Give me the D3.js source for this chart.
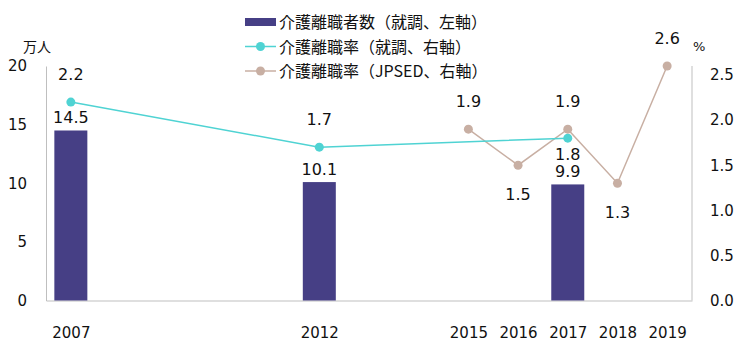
<!DOCTYPE html>
<html lang="ja">
<head>
  <meta charset="UTF-8">
  <title>介護離職者数と介護離職率</title>
  <script src="https://d3js.org/d3.v7.min.js"></script>
  <style>
    body { margin: 0; background: #fff; }
  </style>
</head>
<body>
<svg></svg>
<script>
  // data
  const years = [2007, 2012, 2015, 2016, 2017, 2018, 2019]
  const barYears = [2007, 2012, 2017]
  const barValues = [14.5, 10.1, 9.9]
  const shuchoYears = [2007, 2012, 2017]
  const shuchoRates = [2.2, 1.7, 1.8]
  const shuchoLabelPos = ['up', 'up', 'down']
  const jpsedYears = [2015, 2016, 2017, 2018, 2019]
  const jpsedRates = [1.9, 1.5, 1.9, 1.3, 2.6]
  const jpsedLabelPos = ['up', 'down', 'up', 'down', 'up']
  const leftTicks = [0, 5, 10, 15, 20]
  const rightTicks = [0, 0.5, 1.0, 1.5, 2.0, 2.5]
  const legendLabels = ['介護離職者数（就調、左軸）', '介護離職率（就調、右軸）', '介護離職率（JPSED、右軸）']

  const width = 750, height = 352
  const margin = {top: 66, right: 58, bottom: 51.5, left: 46}
  const barColor = '#463f85', tealColor = '#4fd3d3', beigeColor = '#c8afa3', axisColor = '#bfbfbf'
  const numFont = '"DejaVu Sans", Verdana, sans-serif'
  const jpFont = '"Noto Sans CJK JP", sans-serif'

  const x = d3.scaleLinear()
      .domain([2006.5, 2019.5])
      .range([margin.left, width - margin.right])
  const yL = d3.scaleLinear()
      .domain([0, 20])
      .range([height - margin.bottom, margin.top])
  const yR = d3.scaleLinear()
      .domain([0, 2.6])
      .range([height - margin.bottom, margin.top])

  const svg = d3.select('svg')
      .attr('width', width)
      .attr('height', height)
      .attr('viewBox', [0, 0, width, height])

  // 軸
  const gl = svg.append('g')
      .attr('transform', `translate(${margin.left},0)`)
      .call(d3.axisLeft(yL).tickValues(leftTicks).tickSize(0).tickSizeOuter(0).tickPadding(19))
  const gr = svg.append('g')
      .attr('transform', `translate(${width - margin.right},0)`)
      .call(d3.axisRight(yR).tickValues(rightTicks).tickFormat(d3.format('.1f')).tickSize(0).tickSizeOuter(0).tickPadding(18))
  gr.select('.domain').attr('d', `M0,${yR(0)}V${yR.range()[1]}`)
  const gb = svg.append('g')
      .attr('transform', `translate(0,${height - margin.bottom})`)
      .call(d3.axisBottom(x).tickValues(years).tickFormat(d3.format('d')).tickSize(0).tickSizeOuter(0).tickPadding(27))
  ;[gl, gr, gb].forEach(g => {
    g.select('.domain').attr('stroke', axisColor).attr('stroke-width', 1)
    g.selectAll('text').attr('font-family', numFont).attr('font-size', 15).attr('fill', '#111')
  })

  // 単位
  svg.append('text')
      .attr('x', 23).attr('y', 46)
      .attr('dominant-baseline', 'central')
      .attr('font-family', jpFont).attr('font-size', 14).attr('fill', '#111')
      .text('万人')
  svg.append('text')
      .attr('x', 693).attr('y', 46)
      .attr('dominant-baseline', 'central')
      .attr('font-family', numFont).attr('font-size', 13).attr('fill', '#111')
      .text('%')

  // 棒
  const barW = 33
  const bars = barYears.map((yr, i) => ({year: yr, value: barValues[i]}))
  svg.append('g').selectAll('rect')
      .data(bars)
      .join('rect')
      .attr('x', d => x(d.year) - barW / 2)
      .attr('y', d => yL(d.value))
      .attr('width', barW)
      .attr('height', d => yL(0) - yL(d.value))
      .attr('fill', barColor)
  svg.append('g').selectAll('text')
      .data(bars)
      .join('text')
      .attr('x', d => x(d.year))
      .attr('y', d => yL(d.value) - 7)
      .attr('text-anchor', 'middle')
      .attr('font-family', numFont).attr('font-size', 16).attr('fill', '#111')
      .text(d => d.value.toFixed(1))

  // 折れ線
  function drawLine(yrs, vals, pos, color) {
    const pts = yrs.map((yr, i) => ({year: yr, value: vals[i], pos: pos[i]}))
    const line = d3.line().x(d => x(d.year)).y(d => yR(d.value))
    svg.append('path')
        .datum(pts)
        .attr('d', line)
        .attr('fill', 'none')
        .attr('stroke', color)
        .attr('stroke-width', 1.5)
    svg.append('g').selectAll('circle')
        .data(pts)
        .join('circle')
        .attr('cx', d => x(d.year))
        .attr('cy', d => yR(d.value))
        .attr('r', 4.5)
        .attr('fill', color)
    return pts
  }
  const jpsedPts = drawLine(jpsedYears, jpsedRates, jpsedLabelPos, beigeColor)
  const shuchoPts = drawLine(shuchoYears, shuchoRates, shuchoLabelPos, tealColor)

  function drawLabels(pts, downOffset) {
    svg.append('g').selectAll('text')
        .data(pts)
        .join('text')
        .attr('x', d => x(d.year))
        .attr('y', d => d.pos === 'up' ? yR(d.value) - 22 : yR(d.value) + downOffset)
        .attr('text-anchor', 'middle')
        .attr('font-family', numFont).attr('font-size', 16).attr('fill', '#111')
        .text(d => d.value.toFixed(1))
  }
  drawLabels(shuchoPts, 22)
  drawLabels(jpsedPts, 35)

  // 凡例
  const legend = svg.append('g').attr('transform', 'translate(245,0)')
  const rowY = [21, 45.5, 70]
  legend.append('rect')
      .attr('x', 0).attr('y', rowY[0] - 3)
      .attr('width', 31).attr('height', 8)
      .attr('fill', barColor)
  ;[tealColor, beigeColor].forEach((c, i) => {
    const yy = rowY[i + 1] + 1
    legend.append('line')
        .attr('x1', 0).attr('x2', 31).attr('y1', yy).attr('y2', yy)
        .attr('stroke', c).attr('stroke-width', 1.5)
    legend.append('circle')
        .attr('cx', 15.5).attr('cy', yy).attr('r', 4.5)
        .attr('fill', c)
  })
  legend.selectAll('text.lab')
      .data(legendLabels)
      .join('text')
      .attr('class', 'lab')
      .attr('x', 34)
      .attr('y', (d, i) => rowY[i])
      .attr('dominant-baseline', 'central')
      .attr('font-family', jpFont).attr('font-size', 16).attr('fill', '#111')
      .text(d => d)
</script>
</body>
</html>
